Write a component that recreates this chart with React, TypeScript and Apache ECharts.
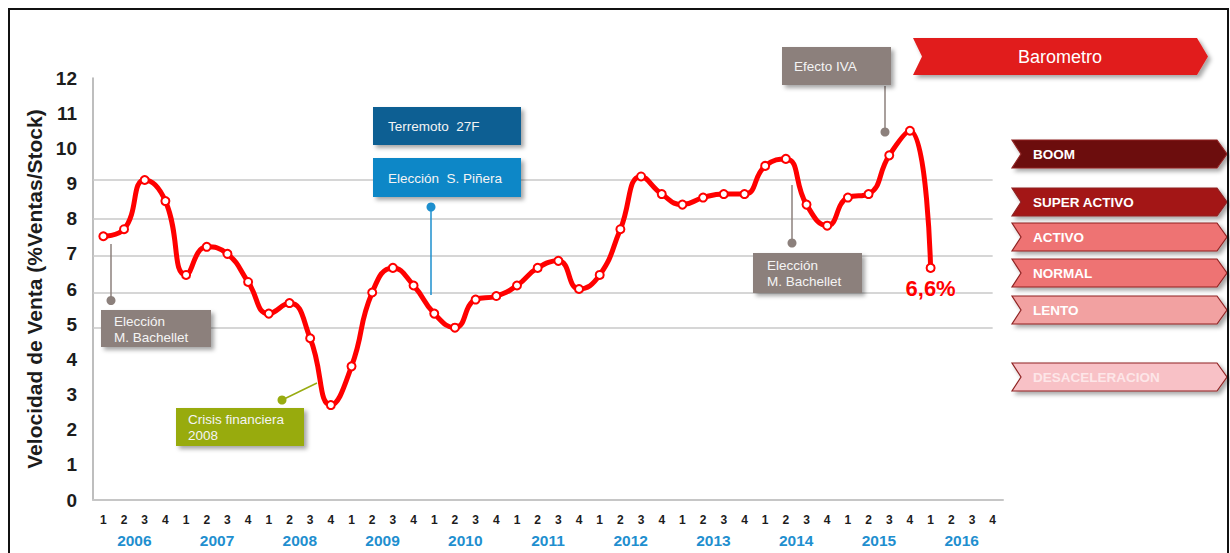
import React, { useEffect, useRef } from "react";
import * as echarts from "echarts";

// Quarterly sales velocity (% sales / stock), 2006 Q1 – 2016 Q4
const years = ["2006", "2007", "2008", "2009", "2010", "2011", "2012", "2013", "2014", "2015", "2016"];
const quarters = ["1", "2", "3", "4"];
const quarterLabels = years.flatMap(() => quarters);
const salesVelocity: (number | null)[] = [
  7.5, 7.7, 9.1, 8.5,
  6.4, 7.2, 7.0, 6.2,
  5.3, 5.6, 4.6, 2.7,
  3.8, 5.9, 6.6, 6.1,
  5.3, 4.9, 5.7, 5.8,
  6.1, 6.6, 6.8, 6.0,
  6.4, 7.7, 9.2, 8.7,
  8.4, 8.6, 8.7, 8.7,
  9.5, 9.7, 8.4, 7.8,
  8.6, 8.7, 9.8, 10.5,
  6.6, null, null, null,
];
// Barometer thresholds drawn as reference lines
const thresholds = [9.1, 8.0, 6.95, 5.9, 4.9];
const yTicks = { min: 0, max: 12, interval: 1 };

const bands = [
  { name: "BOOM", fill: "#6c0d0e", text: "#ffffff" },
  { name: "SUPER ACTIVO", fill: "#a31416", text: "#ffffff" },
  { name: "ACTIVO", fill: "#ee7373", text: "#ffffff" },
  { name: "NORMAL", fill: "#ee7373", text: "#ffffff" },
  { name: "LENTO", fill: "#f2a1a1", text: "#ffffff" },
  { name: "DESACELERACION", fill: "#f8c1c6", text: "#fde6e8" },
];
const bandTops = [140, 188, 223, 259, 296, 363];

const FONT = "'Liberation Sans', Arial, sans-serif";

const shadow = {
  shadowBlur: 4,
  shadowOffsetX: 3,
  shadowOffsetY: 3,
  shadowColor: "rgba(0,0,0,0.35)",
};

function ribbon(x0: number, x1: number, y0: number, y1: number, notch: number, tip: number) {
  const m = (y0 + y1) / 2;
  return [
    [x0, y0],
    [x1 - tip, y0],
    [x1, m],
    [x1 - tip, y1],
    [x0, y1],
    [x0 + notch, m],
  ];
}

function callout(
  x: number, y: number, w: number, h: number, fill: string, text: string,
  tx: number, ty: number
) {
  return [
    { type: "rect", shape: { x, y, width: w, height: h }, style: { fill, ...shadow }, z: 20 },
    {
      type: "text",
      x: tx,
      y: ty,
      style: {
        text,
        fill: "#f4f4f4",
        font: `13.5px ${FONT}`,
        lineHeight: 16,
        verticalAlign: "middle",
        align: "left",
      },
      z: 21,
    },
  ];
}

function leader(x1: number, y1: number, x2: number, y2: number, color: string) {
  return [
    { type: "line", shape: { x1, y1, x2, y2 }, style: { stroke: color, lineWidth: 1.5 }, z: 19 },
    { type: "circle", shape: { cx: x1, cy: y1, r: 4.5 }, style: { fill: color }, z: 19 },
  ];
}

export default function App() {
  const ref = useRef<HTMLDivElement>(null);

  useEffect(() => {
    if (!ref.current) return;
    const chart = echarts.init(ref.current, undefined, { renderer: "svg" });

    const lastIdx = salesVelocity.reduce((acc: number, v, i) => (v != null ? i : acc), 0);
    const seriesData = salesVelocity.map((v, i) =>
      i === lastIdx
        ? {
            value: v,
            label: {
              show: true,
              position: "bottom",
              distance: 5,
              color: "#ff0000",
              fontSize: 22,
              fontWeight: "bold",
              fontFamily: FONT,
              textBorderColor: "rgba(255,255,255,0.8)",
              textBorderWidth: 1,
              formatter: (p: any) => `${Number(p.value).toFixed(1).replace(".", ",")}%`,
            },
          }
        : v
    );

    const gray = "#8c807c";
    const graphics: any[] = [
      {
        type: "rect",
        shape: { x: 9, y: 9, width: 1219, height: 570 },
        style: { fill: "none", stroke: "#111", lineWidth: 2 },
        z: 30,
      },
      // Barometer header
      {
        type: "polygon",
        shape: { points: ribbon(913, 1208, 38, 75, 9, 11) },
        style: { fill: "#e11d1d", ...shadow },
        z: 20,
      },
      {
        type: "text",
        x: 1060,
        y: 57,
        style: {
          text: "Barometro",
          fill: "#ffffff",
          font: `18px ${FONT}`,
          align: "center",
          verticalAlign: "middle",
        },
        z: 21,
      },
      // Annotations
      ...leader(111, 300.5, 111, 244, gray),
      ...callout(101, 310, 110, 37, gray, "Elección\nM. Bachellet", 114, 329),
      ...leader(282, 400, 317, 383, "#98ab10"),
      ...callout(176, 408, 128, 38, "#98ab10", "Crisis financiera\n2008", 188, 427.5),
      ...callout(373, 107, 148, 38, "#0b5f93", "Terremoto  27F", 388, 126),
      ...leader(431, 207, 431, 295, "#1d8fce"),
      ...callout(373, 158, 148, 39, "#0b87c7", "Elección  S. Piñera", 388, 178),
      ...leader(792, 243, 792, 185, gray),
      ...callout(753, 253, 109, 40, gray, "Elección\nM. Bachellet", 767, 273),
      ...leader(885, 132, 885, 86, gray),
      ...callout(782, 47, 109, 38, gray, "Efecto IVA", 794, 66),
    ];

    bands.forEach((b, i) => {
      const top = bandTops[i];
      graphics.push({
        type: "polygon",
        shape: { points: ribbon(1012, 1227, top, top + 28, 9, 10) },
        style: { fill: b.fill, stroke: "#8f2323", lineWidth: 1.2, ...shadow },
        z: 20,
      });
      graphics.push({
        type: "text",
        x: 1033,
        y: top + 14,
        style: {
          text: b.name,
          fill: b.text,
          font: `bold 13.5px ${FONT}`,
          align: "left",
          verticalAlign: "middle",
        },
        z: 21,
      });
    });

    chart.setOption({
      animation: false,
      backgroundColor: "#ffffff",
      textStyle: { fontFamily: FONT },
      grid: { left: 93, right: 227, top: 78, bottom: 53, containLabel: false },
      xAxis: [
        {
          type: "category",
          position: "bottom",
          data: quarterLabels,
          boundaryGap: true,
          axisLine: { lineStyle: { color: "#c6c6c6", width: 2 } },
          axisTick: { show: false },
          axisLabel: {
            interval: 0,
            margin: 14,
            color: "#1c1c1c",
            fontWeight: "bold",
            fontSize: 12,
          },
          splitLine: { show: false },
        },
        {
          type: "category",
          position: "bottom",
          data: years,
          boundaryGap: true,
          axisLine: { show: false },
          axisTick: { show: false },
          axisLabel: {
            interval: 0,
            margin: 32,
            color: "#1f8fcf",
            fontWeight: "bold",
            fontSize: 15.5,
          },
          splitLine: { show: false },
        },
      ],
      yAxis: {
        type: "value",
        min: yTicks.min,
        max: yTicks.max,
        interval: yTicks.interval,
        name: "Velocidad de Venta (%Ventas/Stock)",
        nameLocation: "middle",
        nameRotate: 90,
        nameGap: 46,
        nameTextStyle: { fontSize: 21, fontWeight: "bold", color: "#1c1c1c" },
        axisLine: { show: true, lineStyle: { color: "#a8a8a8", width: 1.5 } },
        axisTick: { show: false },
        axisLabel: { margin: 16, fontSize: 19, fontWeight: "bold", color: "#1c1c1c" },
        splitLine: { show: false },
      },
      series: [
        {
          type: "line",
          xAxisIndex: 0,
          data: seriesData,
          smooth: 0.5,
          symbol: "circle",
          symbolSize: 8,
          showSymbol: true,
          lineStyle: { color: "#ff0000", width: 5 },
          itemStyle: { color: "#ffffff", borderColor: "#ff0000", borderWidth: 2 },
          z: 5,
          markLine: {
            silent: true,
            symbol: ["none", "none"],
            label: { show: false },
            lineStyle: { color: "#c8c8c8", width: 1.5, type: "solid" },
            z: 1,
            data: thresholds.map((v) => [
              { xAxis: 0, yAxis: v, x: 93 },
              { xAxis: quarterLabels.length - 1, yAxis: v },
            ]),
          },
        },
      ],
      graphic: graphics,
    });

    return () => chart.dispose();
  }, []);

  return (
    <div
      ref={ref}
      style={{ position: "absolute", left: 0, top: 0, width: 1230, height: 553, background: "#fff" }}
    />
  );
}
